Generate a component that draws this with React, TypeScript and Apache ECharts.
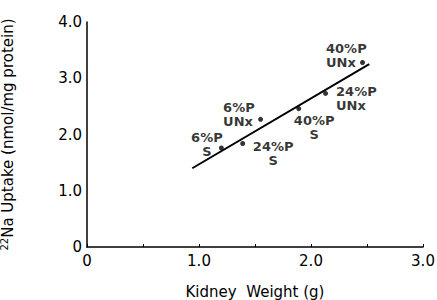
import React, { useEffect, useRef } from "react";
import * as echarts from "echarts";

const pointLabels = ["6%P\nS", "24%P\nS", "6%P\nUNx", "40%P\nS", "24%P\nUNx", "40%P\nUNx"];
const kidneyWeight = [1.2, 1.39, 1.55, 1.89, 2.13, 2.46];
const naUptake = [1.76, 1.84, 2.27, 2.46, 2.73, 3.28];
const fitX = [0.94, 2.52];
const fitY = [1.4, 3.25];
const xTicks = [0, 0.5, 1, 1.5, 2, 2.5, 3];
const yTicks = [0, 1, 2, 3, 4];

// label layout: [dx, dy, align]
const labelLayout: [number, number, string][] = [
  [-14, -17, "center"],
  [31, -4, "center"],
  [-37, -18, "left"],
  [16, 5, "center"],
  [11, -8, "left"],
  [-36, -21, "left"],
];

const FONT = "DejaVu Sans, Verdana, sans-serif";

export default function App() {
  const ref = useRef<HTMLDivElement>(null);
  useEffect(() => {
    if (!ref.current) return;
    const chart = echarts.init(ref.current, null, { renderer: "svg" });
    const scatterData = kidneyWeight.map((x, i) => ({
      value: [x, naUptake[i]],
      name: pointLabels[i],
      label: {
        show: true,
        formatter: "{b}",
        position: [labelLayout[i][0] + 2, labelLayout[i][1] + 2],
        align: labelLayout[i][2] as any,
        verticalAlign: "top",
        color: "#000",
        fontSize: 13,
        fontWeight: "bold",
        lineHeight: 14,
        fontFamily: FONT,
      },
    }));
    chart.setOption({
      animation: false,
      backgroundColor: "#fff",
      grid: { left: 87, right: 14, top: 22, bottom: 53, containLabel: false, outerBoundsMode: "none" },
      xAxis: {
        type: "value",
        min: xTicks[0],
        max: xTicks[xTicks.length - 1],
        interval: 0.5,
        name: "Kidney  Weight (g)",
        nameLocation: "middle",
        nameGap: 37,
        nameTextStyle: { color: "#000", fontSize: 15, fontFamily: FONT },
        axisLine: { lineStyle: { color: "#000", width: 1.5 } },
        axisTick: { show: true, inside: true, length: 3, lineStyle: { color: "#000" } },
        splitLine: { show: false },
        axisLabel: {
          color: "#000",
          fontSize: 15,
          fontFamily: FONT,
          margin: 6,
          formatter: (v: number) => (v === 0 ? "0" : v % 1 === 0 ? v.toFixed(1) : ""),
        },
      },
      yAxis: {
        type: "value",
        min: yTicks[0],
        max: yTicks[yTicks.length - 1],
        interval: 1,
        name: "{sup|22}{n|Na Uptake (nmol/mg protein)}",
        nameLocation: "middle",
        nameGap: 70,
        nameTextStyle: {
          color: "#000",
          fontSize: 15,
          fontFamily: FONT,
          rich: {
            sup: { fontSize: 10, fontFamily: FONT, color: "#000", verticalAlign: "top", lineHeight: 18 },
            n: { fontSize: 15, fontFamily: FONT, color: "#000", lineHeight: 18 },
          },
        },
        axisLine: { show: true, lineStyle: { color: "#000", width: 1.5 } },
        axisTick: { show: false },
        splitLine: { show: false },
        axisLabel: {
          color: "#000",
          fontSize: 15,
          fontFamily: FONT,
          margin: 5,
          formatter: (v: number) => (v === 0 ? "0" : v.toFixed(1)),
        },
      },
      series: [
        {
          type: "line",
          data: fitX.map((x, i) => [x, fitY[i]]),
          symbol: "none",
          lineStyle: { color: "#000", width: 2 },
          z: 2,
        },
        {
          type: "scatter",
          data: scatterData,
          symbol: "circle",
          symbolSize: 5,
          itemStyle: { color: "#000" },
          z: 3,
        },
      ],
    });
    return () => chart.dispose();
  }, []);
  return (
    <div
      ref={ref}
      style={{ position: "fixed", left: 0, top: 0, width: 437, height: 300, background: "#fff" }}
    />
  );
}
